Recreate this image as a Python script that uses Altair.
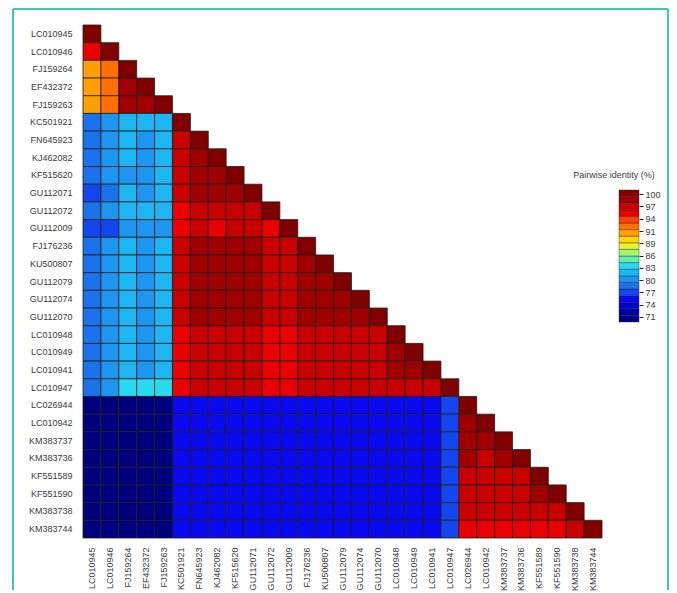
import altair as alt
import pandas as pd

labels = ["LC010945", "LC010946", "FJ159264", "EF432372", "FJ159263",
          "KC501921", "FN645923", "KJ462082", "KF515620", "GU112071",
          "GU112072", "GU112009", "FJ176236", "KU500807", "GU112079",
          "GU112074", "GU112070", "LC010948", "LC010949", "LC010941",
          "LC010947", "LC026944", "LC010942", "KM383737", "KM383736",
          "KF551589", "KF551590", "KM383738", "KM383744"]

# lower-triangular pairwise identity (%), row i has columns 0..i
identity_rows = [
    [100],
    [95.8, 100],
    [91.2, 92.6, 100],
    [91.0, 92.8, 99.1, 100],
    [91.4, 92.9, 98.7, 99.0, 100],
    [78.3, 80.0, 81.6, 81.0, 81.7, 100],
    [78.1, 80.2, 80.9, 80.3, 81.2, 97.3, 100],
    [78.2, 80.1, 81.1, 80.6, 81.0, 97.1, 98.9, 100],
    [78.0, 79.9, 80.4, 80.2, 81.0, 97.0, 98.7, 99.0, 100],
    [76.9, 78.3, 81.0, 80.6, 81.1, 96.9, 98.4, 98.8, 98.5, 100],
    [78.1, 80.0, 81.5, 81.0, 81.2, 96.0, 97.4, 97.5, 97.6, 97.3, 100],
    [76.5, 76.8, 80.2, 80.0, 80.4, 95.6, 96.6, 96.4, 96.6, 96.8, 96.2, 100],
    [78.2, 80.0, 80.9, 80.5, 80.8, 96.8, 98.6, 98.7, 98.5, 98.3, 97.4, 96.7, 100],
    [78.1, 80.1, 80.9, 80.6, 81.0, 96.9, 98.5, 98.8, 98.7, 98.4, 97.3, 96.8, 98.4, 100],
    [78.0, 80.2, 80.9, 80.6, 81.1, 96.9, 98.6, 98.7, 98.6, 98.3, 97.2, 96.7, 98.5, 98.6, 100],
    [78.1, 80.4, 81.0, 80.5, 81.0, 96.8, 98.5, 98.6, 98.5, 98.3, 97.3, 96.8, 98.7, 98.8, 98.9, 100],
    [78.0, 80.0, 80.8, 80.5, 81.0, 96.7, 98.3, 98.4, 98.4, 98.2, 97.1, 96.7, 98.6, 98.7, 98.7, 98.9, 100],
    [78.1, 79.6, 81.5, 80.6, 81.1, 95.9, 97.4, 97.3, 97.4, 97.3, 96.3, 96.1, 97.2, 97.3, 97.2, 97.3, 97.5, 100],
    [77.8, 79.5, 81.0, 80.6, 81.0, 96.2, 97.5, 97.3, 97.4, 97.2, 96.3, 96.2, 97.3, 97.2, 97.3, 97.2, 97.4, 98.6, 100],
    [77.7, 79.5, 80.9, 80.3, 80.9, 96.1, 97.4, 97.4, 97.3, 97.2, 96.2, 96.1, 97.2, 97.3, 97.2, 97.3, 97.3, 98.3, 98.6, 100],
    [78.8, 80.6, 82.6, 82.5, 83.0, 95.8, 97.0, 97.1, 96.9, 96.7, 96.3, 95.7, 96.8, 96.9, 96.8, 96.9, 96.9, 97.0, 97.1, 97.2, 100],
    [70.6, 70.8, 70.7, 70.7, 70.6, 75.2, 75.0, 75.1, 75.0, 75.2, 75.3, 75.1, 75.0, 75.1, 75.0, 75.1, 75.2, 75.3, 75.1, 75.2, 76.3, 100],
    [70.7, 70.9, 70.6, 70.8, 70.7, 75.3, 75.1, 75.0, 75.2, 75.1, 75.2, 75.4, 75.1, 75.0, 75.1, 75.2, 75.1, 75.2, 75.3, 75.1, 76.2, 98.6, 100],
    [70.5, 70.7, 70.6, 70.6, 70.5, 75.0, 75.2, 75.1, 75.1, 75.0, 75.1, 75.2, 75.0, 75.1, 75.2, 75.0, 75.1, 75.1, 75.2, 75.0, 76.1, 98.5, 98.2, 100],
    [70.6, 70.8, 70.5, 70.7, 70.6, 75.1, 75.0, 75.2, 75.0, 75.1, 75.2, 75.1, 75.1, 75.0, 75.1, 75.2, 75.0, 75.2, 75.1, 75.1, 76.2, 98.1, 98.0, 98.8, 100],
    [70.8, 71.0, 70.9, 70.8, 70.9, 75.2, 75.1, 75.3, 75.1, 75.2, 75.1, 75.3, 75.2, 75.1, 75.2, 75.1, 75.2, 75.0, 75.2, 75.3, 76.4, 97.3, 97.0, 97.4, 97.2, 100],
    [70.7, 70.9, 70.8, 70.7, 70.8, 75.1, 75.2, 75.1, 75.2, 75.0, 75.2, 75.1, 75.3, 75.2, 75.1, 75.0, 75.1, 75.2, 75.1, 75.2, 76.3, 97.2, 96.9, 97.1, 97.0, 98.4, 100],
    [70.6, 70.7, 70.6, 70.5, 70.6, 75.0, 75.1, 75.0, 75.1, 75.2, 75.0, 75.2, 75.1, 75.0, 75.1, 75.2, 75.1, 75.1, 75.0, 75.1, 76.2, 96.8, 96.7, 97.0, 96.8, 96.7, 96.8, 100],
    [70.5, 70.6, 70.5, 70.6, 70.5, 75.1, 75.0, 75.1, 75.0, 75.1, 75.1, 75.0, 75.2, 75.1, 75.0, 75.1, 75.0, 75.1, 75.1, 75.0, 76.1, 96.2, 95.6, 96.4, 96.3, 95.7, 95.8, 97.0, 100],
]

# colour bins (stepped, jet-like), bottom (low) to top (high)
bin_edges = [69.8, 71.37, 72.94, 74.51, 76.08, 77.65, 79.22, 80.79, 82.36, 83.93,
             85.5, 87.07, 88.64, 90.21, 91.78, 93.35, 94.92, 96.49, 98.06, 99.63, 101.2]
palette = ["#00007F", "#0000A8", "#0000D0", "#0A0AF2", "#1446F0", "#1A72EC",
           "#1C96F0", "#1CB6F2", "#26DAF0", "#60F0B0", "#A8F570", "#E6F530",
           "#FFD800", "#FFA000", "#FF7000", "#FF4000", "#EA0000", "#C80000",
           "#A00000", "#800000"]
legend_tick_values = [71.0, 73.92, 76.84, 79.76, 82.68, 85.6, 88.52, 91.44, 94.36, 97.28, 100.2]
legend_title = "Pairwise identity (%)"

records = []
for i, row in enumerate(identity_rows):
    for j, v in enumerate(row):
        records.append({"row": labels[i], "col": labels[j], "identity": v})
cells = pd.DataFrame(records)

bands = pd.DataFrame({
    "lo": bin_edges[:-1],
    "hi": bin_edges[1:],
    "color": palette,
})

FONT = "Liberation Sans"
LABEL_COLOR = "#3a3a3a"

heat = alt.Chart(cells).mark_rect(stroke="#1e1e1e", strokeWidth=0.8).encode(
    x=alt.X("col:N", sort=labels,
            scale=alt.Scale(domain=labels, paddingInner=0, paddingOuter=0),
            axis=alt.Axis(title=None, orient="bottom", labelAngle=-90, labelAlign="right",
                          labelBaseline="middle", labelPadding=9, ticks=False, domain=False,
                          labelFont=FONT, labelFontSize=9, labelColor=LABEL_COLOR)),
    y=alt.Y("row:N", sort=labels,
            scale=alt.Scale(domain=labels, paddingInner=0, paddingOuter=0),
            axis=alt.Axis(title=None, orient="left", labelPadding=11, ticks=False, domain=False,
                          labelFont=FONT, labelFontSize=9, labelColor=LABEL_COLOR)),
    color=alt.Color("identity:Q",
                    scale=alt.Scale(type="threshold", domain=bin_edges[1:-1], range=palette),
                    legend=None),
)

legend_bar = alt.Chart(bands).mark_rect(stroke="#222222", strokeWidth=0.4).encode(
    x=alt.value(536), x2=alt.value(556),
    y=alt.Y("lo:Q",
            scale=alt.Scale(domain=[18.42, 140.45], zero=False, nice=False),
            axis=alt.Axis(title=None, orient="right", offset=37, values=legend_tick_values,
                          labelExpr="round(datum.value)", tickSize=4, tickColor="#222222",
                          tickWidth=1, domain=False, grid=False, labelPadding=2,
                          labelFont=FONT, labelFontSize=9, labelColor=LABEL_COLOR)),
    y2="hi:Q",
    color=alt.Color("color:N", scale=None),
)

legend_text = alt.Chart(pd.DataFrame({"t": [legend_title]})).mark_text(
    font=FONT, fontSize=9, color=LABEL_COLOR, align="center", baseline="middle"
).encode(x=alt.value(531), y=alt.value(150), text="t:N")

frame_df = pd.DataFrame({"k": [0]})
frame_left = alt.Chart(frame_df).mark_rule(color="#3CC8B4", strokeWidth=2).encode(
    x=alt.value(-70), y=alt.value(-16), y2=alt.value(565))
frame_right = alt.Chart(frame_df).mark_rule(color="#3CC8B4", strokeWidth=2).encode(
    x=alt.value(585), y=alt.value(-16), y2=alt.value(565))
frame_top = alt.Chart(frame_df).mark_rule(color="#3CC8B4", strokeWidth=2).encode(
    x=alt.value(-70), x2=alt.value(585), y=alt.value(-16))

chart = alt.layer(heat, legend_bar, legend_text, frame_left, frame_right, frame_top).resolve_scale(
    y="independent", color="independent"
).properties(
    width=519, height=513,
    padding={"left": 4, "top": 0, "right": 0, "bottom": 0},
    background="white",
).configure_view(stroke=None)

chart.save("out.html", embed_options={"renderer": "svg", "actions": False})
